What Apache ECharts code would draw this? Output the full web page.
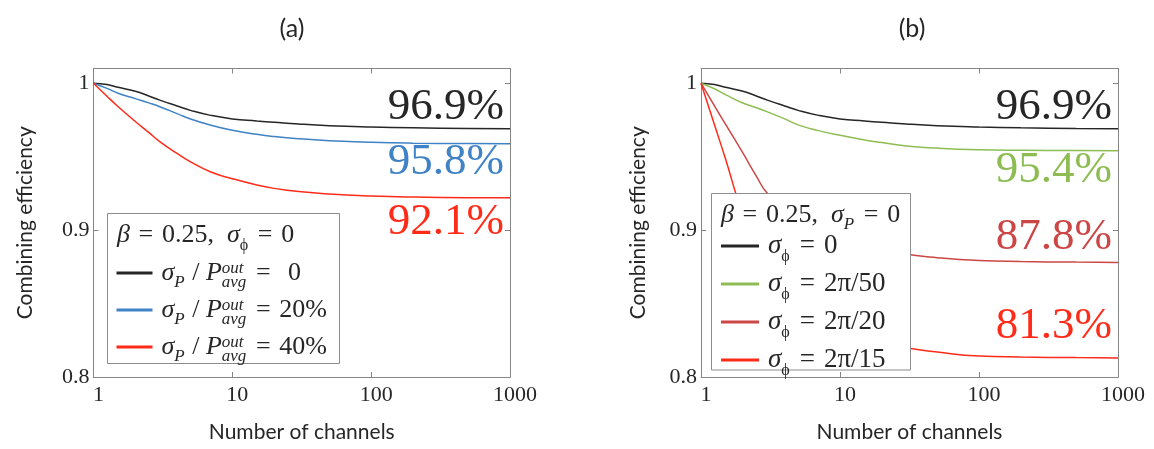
<!DOCTYPE html>
<html><head><meta charset="utf-8">
<script src="https://cdn.jsdelivr.net/npm/echarts@6/dist/echarts.min.js"></script>
<style>html,body{margin:0;padding:0;background:#fff}#c{width:1154px;height:449px}</style>
</head><body><div id="c"></div>
<script>
// ---------- data ----------
const channels = [1, 1.25, 1.5, 2, 2.5, 3, 4, 5, 7, 10, 15, 20, 30, 50, 100, 200, 500, 1000];
const xTickValues = [1, 10, 100, 1000];
const xTickLabels = ['1', '10', '100', '1000'];
const yTickValues = [0.8, 0.9, 1];
const yTickLabels = ['0.8', '0.9', '1'];

// panel (a): beta = 0.25, sigma_phi = 0
const effA_p0  = [1.0, 0.9991, 0.9972, 0.9945, 0.9913, 0.9885, 0.9845, 0.9815, 0.9781, 0.9757, 0.9743, 0.9734, 0.9722, 0.9711, 0.9702, 0.9696, 0.9692, 0.9690];
const effA_p20 = [1.0, 0.9965, 0.9932, 0.9895, 0.9866, 0.9840, 0.9793, 0.9756, 0.9714, 0.9680, 0.9652, 0.9637, 0.9622, 0.9609, 0.9598, 0.9592, 0.9589, 0.9587];
const effA_p40 = [1.0, 0.9911, 0.9841, 0.9739, 0.9665, 0.9602, 0.9522, 0.9465, 0.9395, 0.9350, 0.9307, 0.9284, 0.9262, 0.9245, 0.9232, 0.9225, 0.9221, 0.9220];
// panel (b): beta = 0.25, sigma_P = 0
const effB_f0  = [1.0, 0.9991, 0.9972, 0.9945, 0.9913, 0.9885, 0.9845, 0.9815, 0.9781, 0.9757, 0.9743, 0.9734, 0.9722, 0.9711, 0.9702, 0.9696, 0.9692, 0.9690];
const effB_f50 = [1.0, 0.9962, 0.9922, 0.9865, 0.9833, 0.9805, 0.9757, 0.9716, 0.9677, 0.9645, 0.9614, 0.9596, 0.9572, 0.9558, 0.9547, 0.9543, 0.9541, 0.9540];
const effB_f20 = [1.0, 0.9845, 0.9721, 0.9525, 0.9368, 0.9250, 0.9150, 0.9085, 0.9005, 0.8940, 0.8895, 0.8870, 0.8835, 0.8812, 0.8793, 0.8786, 0.8782, 0.8780];
const effB_f15 = [1.0, 0.9717, 0.9485, 0.9100, 0.8880, 0.8720, 0.8540, 0.8430, 0.8330, 0.8275, 0.8240, 0.8220, 0.8198, 0.8170, 0.8143, 0.8136, 0.8132, 0.8130];

const EQ = '\u2004=\u2004';
const namesA = ['σP / Pavg^out = 0', 'σP / Pavg^out = 20%', 'σP / Pavg^out = 40%'];
const richA  = ['{i0|σ}{sub|P}{n| / }{i|P}{sup|out}{sub|avg}{n|' + EQ + '\u20040}',
                '{i0|σ}{sub|P}{n| / }{i|P}{sup|out}{sub|avg}{n|' + EQ + '20%}',
                '{i0|σ}{sub|P}{n| / }{i|P}{sup|out}{sub|avg}{n|' + EQ + '40%}'];
const namesB = ['σϕ = 0', 'σϕ = 2π/50', 'σϕ = 2π/20', 'σϕ = 2π/15'];
const richB  = ['{i0|σ}{subu|ϕ}{n|' + EQ + '0}', '{i0|σ}{subu|ϕ}{n|' + EQ + '2π/50}',
                '{i0|σ}{subu|ϕ}{n|' + EQ + '2π/20}', '{i0|σ}{subu|ϕ}{n|' + EQ + '2π/15}'];
const headerA = '{i|β}{n|' + EQ + '0.25,\u2002}{i|σ}{subu|ϕ}{n|' + EQ + '0}';
const headerB = '{i|β}{n|' + EQ + '0.25,\u2002}{i|σ}{sub|P}{n|' + EQ + '0}';
const endLabelsA = ['96.9%', '95.8%', '92.1%'];
const endLabelsB = ['96.9%', '95.4%', '87.8%', '81.3%'];

// ---------- styles ----------
const colorsA = ['#262626', '#3f82c5', '#ff2b18'];
const colorsB = ['#262626', '#8dbd52', '#cc4646', '#ff2b18'];
const SERIF = 'Liberation Serif';
const SANS = 'Lato';
const axisGray = '#858585';
const txt = '#262626';

function richStyles(lh, fs) {
  const base = {fontFamily: SERIF, fontSize: fs, color: txt, fill: txt, lineHeight: lh};
  return {
    n: Object.assign({}, base),
    i: Object.assign({}, base, {fontStyle: 'italic'}),
    i0: Object.assign({}, base, {fontStyle: 'italic', padding: [0, 0, 0, 4]}),
    sub: Object.assign({}, base, {fontSize: 17, fontStyle: 'italic', padding: [20, 1, 0, 0]}),
    subu: Object.assign({}, base, {fontSize: 16, padding: [22, 1, 0, 0]}),
    sup: Object.assign({}, base, {fontSize: 17, fontStyle: 'italic', padding: [0, 0, 9, 0], width: 0})
  };
}

function xAxisPair(gi) {
  const common = {gridIndex: gi, type: 'log', logBase: 10, min: 1, max: 1000,
    axisLine: {show: true, lineStyle: {color: axisGray, width: 1}},
    axisTick: {show: true, inside: true, length: 5, lineStyle: {color: axisGray}},
    splitLine: {show: false}, minorTick: {show: false}};
  return [
    Object.assign({}, common, {position: 'bottom',
      axisLabel: {show: true, margin: 7, padding: [0, 0, 0, 10], fontFamily: SERIF, fontSize: 22, color: txt,
        formatter: v => { const k = xTickValues.findIndex(t => Math.abs(t - v) / t < 1e-6); return k >= 0 ? xTickLabels[k] : ''; }},
      name: 'Number of channels', nameLocation: 'middle', nameGap: 45,
      nameTextStyle: {fontFamily: SANS, fontSize: 21, color: txt}}),
    Object.assign({}, common, {position: 'top', axisLabel: {show: false}})
  ];
}
function yAxisPair(gi, gap) {
  const common = {gridIndex: gi, type: 'value', min: 0.8, max: 1.01, interval: 0.1,
    axisLine: {show: true, lineStyle: {color: axisGray, width: 1}},
    axisTick: {show: true, inside: true, length: 5, lineStyle: {color: axisGray}},
    splitLine: {show: false}};
  return [
    Object.assign({}, common, {position: 'left',
      axisLabel: {show: true, margin: 4, padding: [8, 0, 0, 0], fontFamily: SERIF, fontSize: 22, color: txt,
        formatter: v => { const k = yTickValues.findIndex(t => Math.abs(t - v) < 1e-6); return k >= 0 ? yTickLabels[k] : ''; }},
      name: 'Combining efficiency', nameLocation: 'middle', nameGap: gap,
      nameTextStyle: {fontFamily: SANS, fontSize: 21, color: txt}}),
    Object.assign({}, common, {position: 'right', axisLabel: {show: false}})
  ];
}

function mkSeries(name, vals, color, xi, yi) {
  return {name, type: 'line', xAxisIndex: xi, yAxisIndex: yi,
    data: channels.map((n, k) => [n, vals[k]]),
    showSymbol: false, symbol: 'none', smooth: 0.5,
    lineStyle: {color, width: 1.5}, itemStyle: {color}, z: 2, silent: true};
}

const seriesValsA = [effA_p0, effA_p20, effA_p40];
const seriesValsB = [effB_f0, effB_f50, effB_f20, effB_f15];
const series = [];
namesA.forEach((nm, k) => series.push(mkSeries(nm, seriesValsA[k], colorsA[k], 0, 0)));
namesB.forEach((nm, k) => series.push(mkSeries(nm, seriesValsB[k], colorsB[k], 2, 2)));

function endText(x, y, text, color) {
  return {type: 'text', x, y, z: 5, silent: true,
    style: {text, fill: color, fontFamily: SERIF, fontSize: 45, align: 'right', verticalAlign: 'middle'}};
}

const graphic = [
  {type: 'text', x: 292, y: 29, z: 5, style: {text: '(a)', fill: txt, fontFamily: SANS, fontSize: 25, align: 'center', verticalAlign: 'middle'}},
  {type: 'text', x: 912, y: 29, z: 5, style: {text: '(b)', fill: txt, fontFamily: SANS, fontSize: 25, align: 'center', verticalAlign: 'middle'}},
  endText(504, 107, endLabelsA[0], colorsA[0]),
  endText(504, 162, endLabelsA[1], colorsA[1]),
  endText(504, 222, endLabelsA[2], colorsA[2]),
  endText(1112, 107.5, endLabelsB[0], colorsB[0]),
  endText(1112, 170, endLabelsB[1], colorsB[1]),
  endText(1112, 237, endLabelsB[2], colorsB[2]),
  endText(1112, 326.5, endLabelsB[3], colorsB[3]),
  {type: 'rect', z: 3, silent: true, shape: {x: 107.5, y: 213.5, width: 232, height: 150},
    style: {fill: '#fff', stroke: '#8c8c8c', lineWidth: 1}},
  {type: 'rect', z: 3, silent: true, shape: {x: 711.5, y: 193.5, width: 199, height: 176.5},
    style: {fill: '#fff', stroke: '#8c8c8c', lineWidth: 1}},
  {type: 'text', x: 117, y: 235, z: 5, silent: true,
    style: {text: headerA, rich: richStyles(30, 26), fontFamily: SERIF, fontSize: 26, fill: txt, verticalAlign: 'middle', align: 'left'}},
  {type: 'text', x: 721, y: 215, z: 5, silent: true,
    style: {text: headerB, rich: richStyles(30, 26), fontFamily: SERIF, fontSize: 26, fill: txt, verticalAlign: 'middle', align: 'left'}}
];

const option = {
  animation: false,
  backgroundColor: '#fff',
  grid: [
    {left: 93.5, top: 68.5, width: 416.5, height: 308.5, containLabel: false},
    {left: 701, top: 68.5, width: 417, height: 308.5, containLabel: false}
  ],
  xAxis: [...xAxisPair(0), ...xAxisPair(1)],
  yAxis: [...yAxisPair(0, 58), ...yAxisPair(1, 52)],
  legend: [
    {data: namesA, orient: 'vertical', left: 116.5, top: 254.5, padding: 0, itemGap: 0,
     itemWidth: 36, itemHeight: 3, icon: 'rect', selectedMode: false, z: 4,
     formatter: nm => richA[namesA.indexOf(nm)],
     textStyle: {fontFamily: SERIF, fontSize: 26, color: txt, rich: richStyles(34.5, 26)}},
    {data: namesB, orient: 'vertical', left: 721, top: 227, padding: 0, itemGap: 0,
     itemWidth: 38, itemHeight: 3, icon: 'rect', selectedMode: false, z: 4,
     formatter: nm => richB[namesB.indexOf(nm)],
     textStyle: {fontFamily: SERIF, fontSize: 27, color: txt, rich: richStyles(34.9, 27)}}
  ],
  series,
  graphic
};

function draw() {
  const dom = document.getElementById('c');
  const old = echarts.getInstanceByDom(dom);
  if (old) old.dispose();
  const chart = echarts.init(dom, null, {renderer: 'canvas'});
  chart.setOption(option);
}
const fontLoads = ['25px "Liberation Serif"', 'italic 25px "Liberation Serif"', '21px Lato'];
if (document.fonts && document.fonts.load) {
  Promise.all(fontLoads.map(f => document.fonts.load(f, 'σβϕπ0123456789%'))).then(draw, draw);
} else {
  draw();
}
</script></body></html>
